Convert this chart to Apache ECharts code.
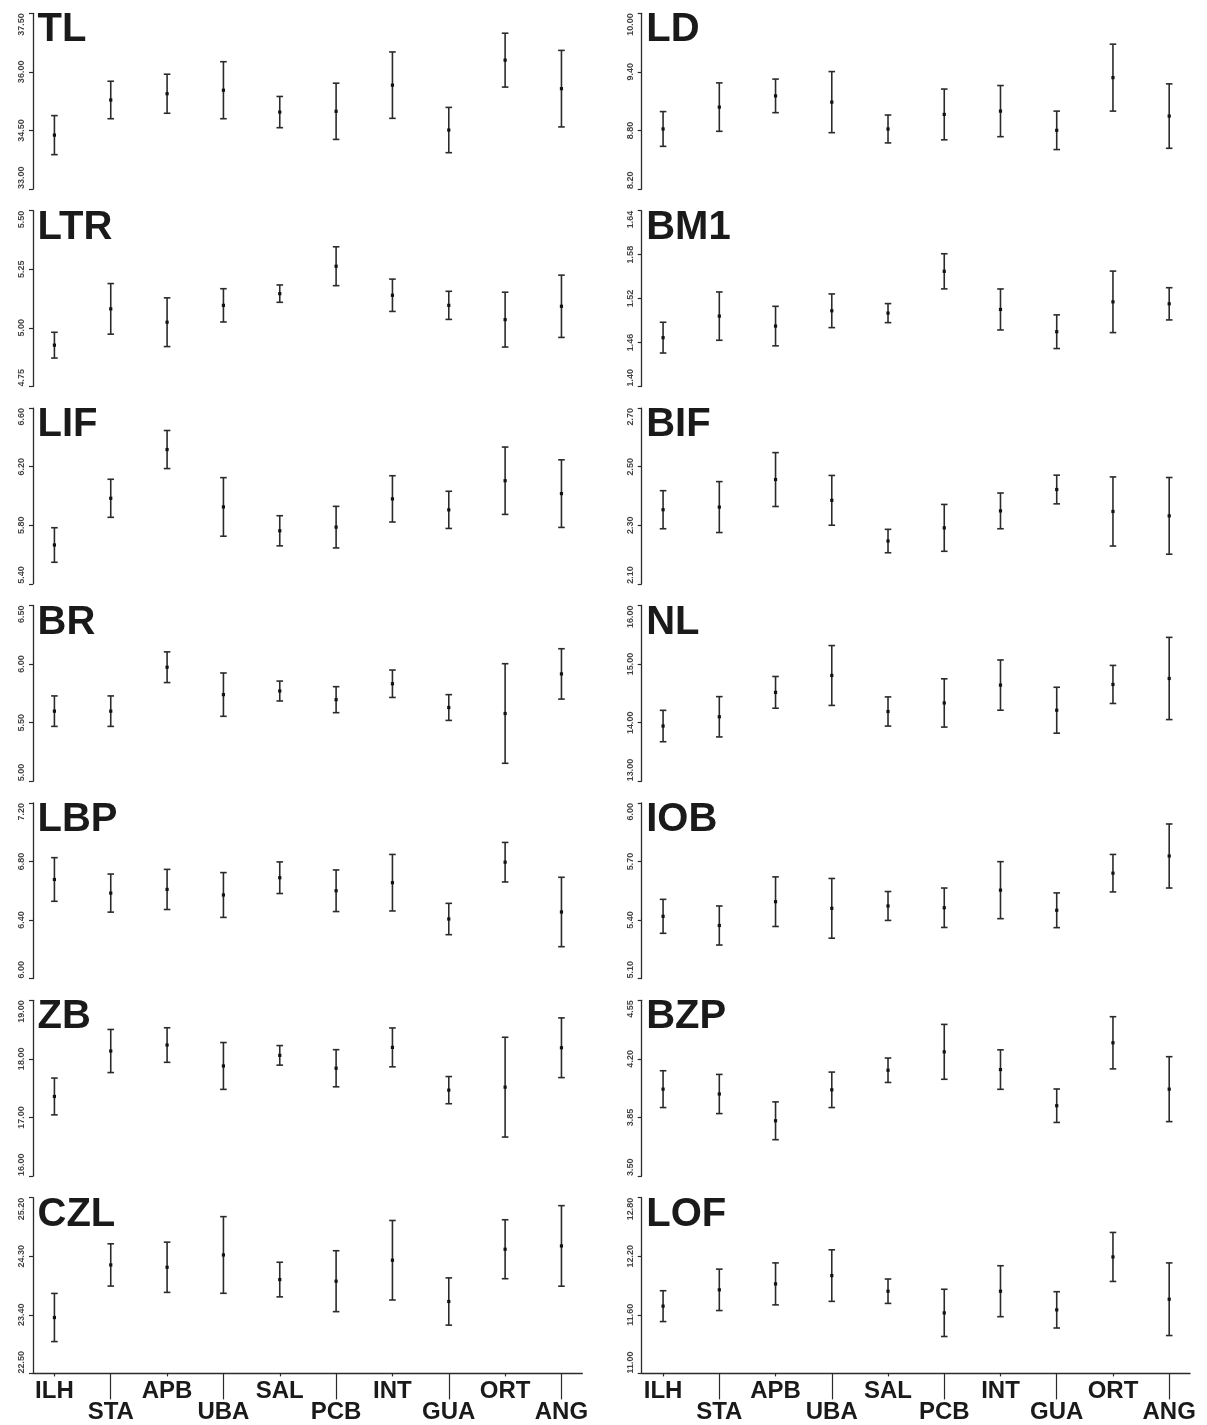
<!DOCTYPE html>
<html>
<head>
<meta charset="utf-8">
<script src="https://cdn.jsdelivr.net/npm/echarts@6/dist/echarts.min.js"></script>
<style>
  html, body { margin: 0; padding: 0; background: #ffffff; }
  #chart { width: 1207px; height: 1425px; }
</style>
</head>
<body>
<div id="chart"></div>
<script>
// Sampling sites along the x axis
const sites = ['ILH', 'STA', 'APB', 'UBA', 'SAL', 'PCB', 'INT', 'GUA', 'ORT', 'ANG'];

// Per-site means and interval half-widths for each measurement, plus axis ticks
const meanTL = [34.38, 35.28, 35.44, 35.53, 34.97, 34.99, 35.66, 34.51, 36.30, 35.57];
const errTL  = [0.50, 0.48, 0.50, 0.73, 0.40, 0.72, 0.85, 0.58, 0.69, 0.98];
const ticksTL = [33.00, 34.50, 36.00, 37.50];

const meanLTR = [4.926, 5.081, 5.024, 5.096, 5.146, 5.263, 5.139, 5.096, 5.035, 5.092];
const errLTR  = [0.055, 0.108, 0.104, 0.071, 0.037, 0.083, 0.069, 0.060, 0.117, 0.133];
const ticksLTR = [4.75, 5.00, 5.25, 5.50];

const meanLIF = [5.665, 5.984, 6.317, 5.925, 5.762, 5.787, 5.980, 5.905, 6.104, 6.016];
const errLIF  = [0.118, 0.130, 0.130, 0.200, 0.103, 0.142, 0.158, 0.127, 0.230, 0.231];
const ticksLIF = [5.40, 5.80, 6.20, 6.60];

const meanBR = [5.598, 5.598, 5.973, 5.739, 5.770, 5.696, 5.832, 5.629, 5.578, 5.916];
const errBR  = [0.130, 0.130, 0.131, 0.185, 0.085, 0.111, 0.117, 0.110, 0.425, 0.215];
const ticksBR = [5.00, 5.50, 6.00, 6.50];

const meanLBP = [6.677, 6.584, 6.609, 6.571, 6.689, 6.600, 6.655, 6.407, 6.795, 6.455];
const errLBP  = [0.149, 0.130, 0.137, 0.153, 0.108, 0.142, 0.193, 0.107, 0.135, 0.237];
const ticksLBP = [6.00, 6.40, 6.80, 7.20];

const meanZB = [17.358, 18.134, 18.236, 17.879, 18.060, 17.840, 18.196, 17.466, 17.517, 18.190];
const errZB  = [0.314, 0.368, 0.295, 0.400, 0.167, 0.317, 0.332, 0.232, 0.852, 0.510];
const ticksZB = [16.00, 17.00, 18.00, 19.00];

const meanCZL = [23.359, 24.167, 24.131, 24.320, 23.942, 23.917, 24.239, 23.605, 24.408, 24.459];
const errCZL  = [0.370, 0.325, 0.386, 0.589, 0.266, 0.468, 0.611, 0.363, 0.453, 0.619];
const ticksCZL = [22.50, 23.40, 24.30, 25.20];

const meanLD = [8.815, 9.039, 9.154, 9.090, 8.815, 8.964, 8.998, 8.801, 9.341, 8.947];
const errLD  = [0.178, 0.248, 0.172, 0.313, 0.143, 0.260, 0.262, 0.197, 0.343, 0.330];
const ticksLD = [8.20, 8.80, 9.40, 10.00];

const meanBM1 = [1.4666, 1.4960, 1.4824, 1.5033, 1.5001, 1.5572, 1.5051, 1.4747, 1.5155, 1.5128];
const errBM1  = [0.021, 0.033, 0.027, 0.023, 0.013, 0.024, 0.028, 0.023, 0.042, 0.022];
const ticksBM1 = [1.40, 1.46, 1.52, 1.58, 1.64];

const meanBIF = [2.353, 2.362, 2.456, 2.385, 2.246, 2.291, 2.349, 2.422, 2.347, 2.332];
const errBIF  = [0.065, 0.087, 0.092, 0.085, 0.040, 0.080, 0.061, 0.049, 0.118, 0.131];
const ticksBIF = [2.10, 2.30, 2.50, 2.70];

const meanNL = [13.942, 14.100, 14.517, 14.805, 14.190, 14.336, 14.641, 14.212, 14.652, 14.754];
const errNL  = [0.268, 0.344, 0.271, 0.511, 0.249, 0.412, 0.429, 0.392, 0.325, 0.702];
const ticksNL = [13.00, 14.00, 15.00, 16.00];

const meanIOB = [5.419, 5.372, 5.494, 5.460, 5.472, 5.463, 5.553, 5.450, 5.640, 5.728];
const errIOB  = [0.087, 0.100, 0.127, 0.153, 0.074, 0.101, 0.146, 0.089, 0.096, 0.164];
const ticksIOB = [5.10, 5.40, 5.70, 6.00];

const meanBZP = [4.019, 3.990, 3.830, 4.015, 4.132, 4.242, 4.136, 3.920, 4.296, 4.019];
const errBZP  = [0.110, 0.117, 0.113, 0.106, 0.073, 0.164, 0.118, 0.100, 0.156, 0.194];
const ticksBZP = [3.50, 3.85, 4.20, 4.55];

const meanLOF = [11.689, 11.856, 11.917, 12.002, 11.842, 11.620, 11.842, 11.651, 12.193, 11.760];
const errLOF  = [0.158, 0.212, 0.215, 0.264, 0.125, 0.242, 0.261, 0.186, 0.251, 0.372];
const ticksLOF = [11.00, 11.60, 12.20, 12.80];

// Panel order: left column top to bottom, then right column
const leftPanels = [
  ['TL', meanTL, errTL, ticksTL],
  ['LTR', meanLTR, errLTR, ticksLTR],
  ['LIF', meanLIF, errLIF, ticksLIF],
  ['BR', meanBR, errBR, ticksBR],
  ['LBP', meanLBP, errLBP, ticksLBP],
  ['ZB', meanZB, errZB, ticksZB],
  ['CZL', meanCZL, errCZL, ticksCZL]
];
const rightPanels = [
  ['LD', meanLD, errLD, ticksLD],
  ['BM1', meanBM1, errBM1, ticksBM1],
  ['BIF', meanBIF, errBIF, ticksBIF],
  ['NL', meanNL, errNL, ticksNL],
  ['IOB', meanIOB, errIOB, ticksIOB],
  ['BZP', meanBZP, errBZP, ticksBZP],
  ['LOF', meanLOF, errLOF, ticksLOF]
];

// Layout
const colLeft = [33, 641.7];
const colWidth = [549.3, 548.3];
const rowTop0 = 13.3, rowPitch = 197.4, rowHeight = 175.7;
const xMin = 0.62, xMax = 10.37;
const ink = '#2b2b2b';
const font = "'Liberation Sans', Arial, sans-serif";

const siteIndex = sites.map((_, i) => i + 1);
const upperSites = siteIndex.filter(v => v % 2 === 1);
const lowerSites = siteIndex.filter(v => v % 2 === 0);

function renderErrorBar(params, api) {
  const x = api.value(0);
  const pm = api.coord([x, api.value(1)]);
  const pl = api.coord([x, api.value(2)]);
  const ph = api.coord([x, api.value(3)]);
  const cap = 3.3;
  const lineStyle = { stroke: ink, lineWidth: 1.6 };
  return {
    type: 'group',
    children: [
      { type: 'line', shape: { x1: pl[0], y1: pl[1], x2: ph[0], y2: ph[1] }, style: lineStyle },
      { type: 'line', shape: { x1: ph[0] - cap, y1: ph[1], x2: ph[0] + cap, y2: ph[1] }, style: lineStyle },
      { type: 'line', shape: { x1: pl[0] - cap, y1: pl[1], x2: pl[0] + cap, y2: pl[1] }, style: lineStyle },
      { type: 'rect', shape: { x: pm[0] - 1.6, y: pm[1] - 1.6, width: 3.2, height: 3.2 }, style: { fill: '#111' } }
    ]
  };
}

const option = {
  animation: false,
  backgroundColor: '#ffffff',
  title: [], grid: [], xAxis: [], yAxis: [], series: []
};

[leftPanels, rightPanels].forEach((panels, col) => {
  panels.forEach((panel, row) => {
    const [name, means, errs, ticks] = panel;
    const g = option.grid.length;
    const top = rowTop0 + row * rowPitch;
    const isBottom = row === panels.length - 1;

    option.grid.push({ left: colLeft[col], top: top, width: colWidth[col], height: rowHeight });

    option.title.push({
      text: name,
      left: colLeft[col] + 4.5,
      top: top - 3,
      padding: 0,
      textStyle: { fontFamily: font, fontSize: 40, fontWeight: 'bold', color: '#1a1a1a', lineHeight: 40 }
    });

    const xIdx = option.xAxis.length;
    option.xAxis.push({
      type: 'value', gridIndex: g, min: xMin, max: xMax,
      show: isBottom,
      splitLine: { show: false },
      axisLine: { show: true, onZero: false, lineStyle: { color: ink, width: 1.3 } },
      axisTick: { show: true, length: 3, customValues: upperSites, lineStyle: { color: ink, width: 1.2 } },
      axisLabel: {
        show: true, customValues: siteIndex, margin: 7,
        fontFamily: font, fontSize: 24, fontWeight: 'bold', color: '#1a1a1a', lineHeight: 21,
        formatter: v => (v % 2 === 0 ? '\n' : '') + sites[v - 1]
      }
    });
    if (isBottom) {
      // long ticks leading down to the lower row of site labels
      option.xAxis.push({
        type: 'value', gridIndex: g, min: xMin, max: xMax, position: 'bottom',
        splitLine: { show: false },
        axisLine: { show: false, onZero: false },
        axisTick: { show: true, length: 26, customValues: lowerSites, lineStyle: { color: ink, width: 1.2 } },
        axisLabel: { show: false }
      });
    }

    const yIdx = option.yAxis.length;
    option.yAxis.push({
      type: 'value', gridIndex: g,
      min: ticks[0], max: ticks[ticks.length - 1],
      splitLine: { show: false },
      axisLine: { show: true, lineStyle: { color: ink, width: 1.3 } },
      axisTick: { show: true, length: 4, customValues: ticks, lineStyle: { color: ink, width: 1.2 } },
      axisLabel: {
        customValues: ticks, rotate: 90, margin: 7,
        fontFamily: font, fontSize: 9, fontWeight: 'bold', color: '#444',
        alignMinLabel: 'left', alignMaxLabel: 'right',
        formatter: v => Number(v).toFixed(2)
      }
    });

    option.series.push({
      type: 'custom', name: name,
      xAxisIndex: xIdx, yAxisIndex: yIdx,
      silent: true,
      renderItem: renderErrorBar,
      encode: { x: 0, y: [1, 2, 3] },
      data: means.map((m, i) => [i + 1, m, m - errs[i], m + errs[i]])
    });
  });
});

const chart = echarts.init(document.getElementById('chart'), null, { renderer: 'canvas' });
chart.setOption(option);
</script>
</body>
</html>
